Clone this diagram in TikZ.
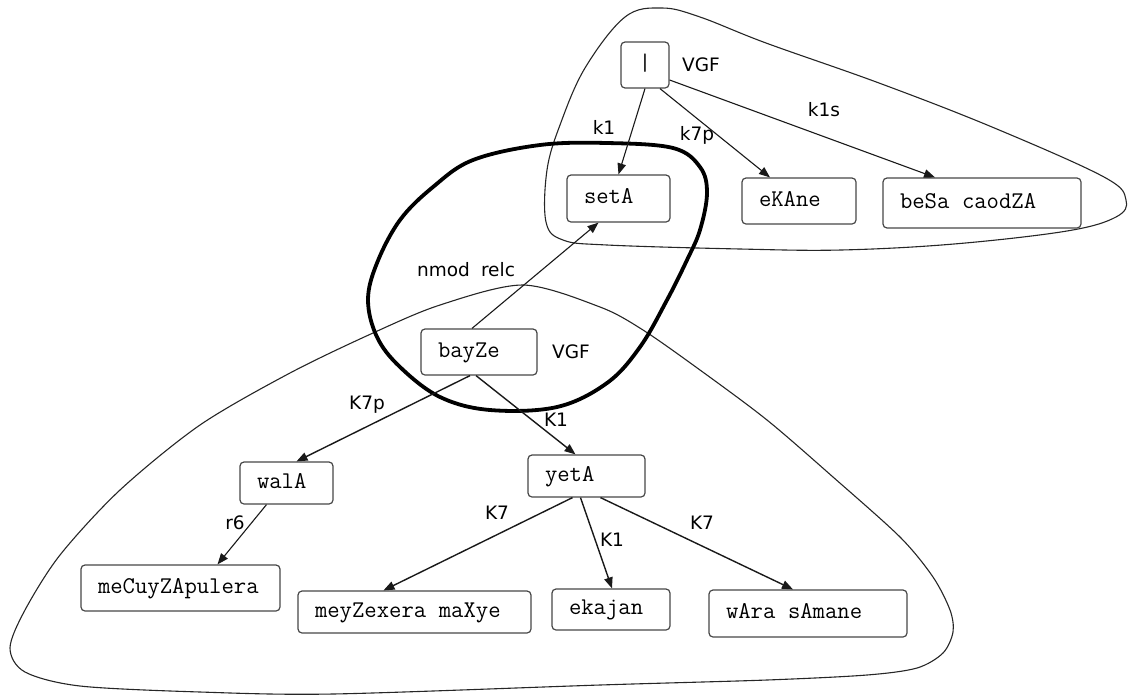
\documentclass[tikz,border=0pt]{standalone}
\usepackage{fontspec}
\setmainfont{DejaVu Sans}
\usetikzlibrary{arrows.meta}
% typewriter face for the word boxes, with a full one-cell word gap
\newcommand\wordfont{\ttfamily\fontsize{24}{25}\selectfont}
\newcommand\wsp{\hspace*{0.525em}}

\begin{document}
\begin{tikzpicture}[x=1pt,y=-1pt,
  word/.style={draw=black!72, line width=1.2pt, rounded corners=4pt,
    inner xsep=17pt, inner ysep=0pt, align=left, font=\wordfont},
  rel/.style={font=\fontsize{18.5}{21}\selectfont, inner sep=0pt},
  link/.style={draw=black!90, line width=1.1pt,
    -{Triangle[length=11pt,width=8.5pt]}},
  dep/.style={link, line width=1.4pt},
  chunk/.style={draw=black!85, line width=1.1pt},
  group/.style={draw=black, line width=3.8pt}]

\useasboundingbox (0,0) rectangle (1128,697);

% chunk outlines
\draw[chunk] plot[smooth cycle, tension=0.6] coordinates {
  (662,8) (700,17) (766,43) (879,83) (992,127) (1104,177) (1126,200)
  (1116,217) (1067,231) (954,244) (841,250) (740,249) (607,245)
  (563,240) (546,222) (547,170) (560,125) (585,68) (625,17)};
\draw[chunk] plot[smooth cycle, tension=0.5] coordinates {
  (523,285) (600,307) (643,330) (700,370) (767,420) (833,477) (900,537)
  (933,577) (950,610) (953,632) (943,653) (917,668) (867,675) (767,680)
  (600,685) (333,694) (200,692) (80,686) (25,672) (10,648) (25,610)
  (60,555) (120,490) (200,425) (290,373) (373,333) (440,305)};
\draw[group] plot[smooth cycle, tension=0.6] coordinates {
  (540,145) (607,143) (673,148) (700,167) (707,193) (700,230) (687,260)
  (667,300) (640,347) (607,383) (557,407) (490,410) (440,397) (400,367)
  (377,337) (368,300) (377,263) (400,220) (433,187) (473,160)};

% words
\node[word, align=center, inner xsep=0pt, minimum width=48pt, minimum height=46pt] (l) at (645,65) {|\strut};
\node[word, text width=69pt, minimum height=47pt] (setA) at (618.5,198.5) {setA\strut};
\node[word, text width=80pt, minimum height=46pt] (eKAne) at (799,201) {eKAne\strut};
\node[word, text width=164pt, minimum height=50pt] (beSa) at (982,203) {beSa\wsp caodZA\strut};
\node[word, text width=82pt, minimum height=46pt] (bayZe) at (479,352) {bayZe\strut};
\node[word, text width=59pt, minimum height=42pt] (walA) at (286.5,483) {walA\strut};
\node[word, text width=83pt, minimum height=42pt] (yetA) at (586.5,476) {yetA\strut};
\node[word, text width=165pt, minimum height=46pt] (meCuy) at (180.5,588) {meCuyZApulera\strut};
\node[word, text width=199pt, minimum height=42pt] (meyZ) at (414.5,612) {meyZexera\wsp maXye\strut};
\node[word, text width=84pt, minimum height=41pt] (ekajan) at (611,609.5) {ekajan\strut};
\node[word, text width=164pt, minimum height=47pt] (wAra) at (808,613.5) {wAra\wsp sAmane\strut};

% relations
\draw[link] (l.south) -- (setA.north);
\draw[link] ([xshift=15pt]l.south) -- ([xshift=-29pt]eKAne.north);
\draw[link] ([yshift=-15pt]l.east) -- ([xshift=-47pt]beSa.north);
\draw[link] ([xshift=-7pt]bayZe.north) -- ([xshift=-20pt]setA.south);
\draw[dep] ([xshift=-9pt]bayZe.south) -- ([xshift=10pt]walA.north);
\draw[dep] ([xshift=-3pt]bayZe.south) -- ([xshift=-11pt]yetA.north);
\draw[link] ([xshift=-20pt]walA.south) -- ([xshift=37pt]meCuy.north);
\draw[dep] ([xshift=-14pt]yetA.south) -- ([xshift=-31pt]meyZ.north);
\draw[dep] ([xshift=-6pt]yetA.south) -- ([xshift=1pt]ekajan.north);
\draw[dep] ([xshift=14pt]yetA.south) -- ([xshift=-15pt]wAra.north);

% labels
\node[rel] (vgf1) at (701,65) {VGF};
\node[rel] (k1) at (604,127) {k1};
\node[rel] (k7p) at (697,135) {k7p};
\node[rel] (k1s) at (824,110) {k1s};
\node[rel] (nmod) at (466,270) {nmod\hspace{0.6em}relc};
\node[rel] (vgf2) at (571,352) {VGF};
\node[rel] (K7p) at (367,405) {K7p};
\node[rel] (K1a) at (556,420) {K1};
\node[rel] (r6) at (235,523) {r6};
\node[rel] (K7a) at (497,513) {K7};
\node[rel] (K1b) at (612,540) {K1};
\node[rel] (K7b) at (702,523) {K7};
\end{tikzpicture}
\end{document}
